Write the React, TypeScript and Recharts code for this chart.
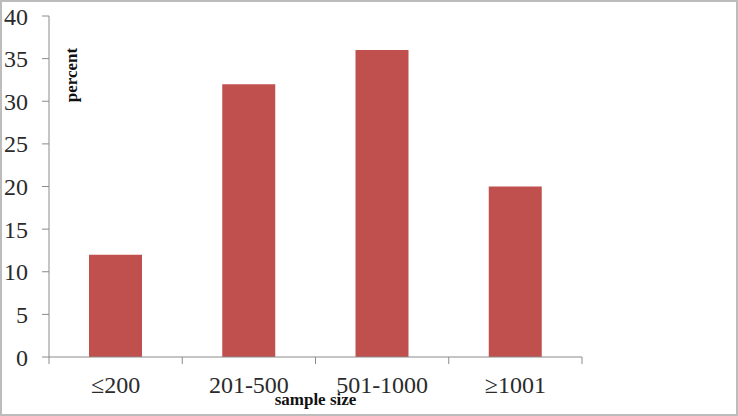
import { BarChart, Bar, XAxis, YAxis, Label } from 'recharts';

const categories = ['≤200', '201-500', '501-1000', '≥1001'];
const percentValues = [12, 32, 36, 20];
const yTicks = [0, 5, 10, 15, 20, 25, 30, 35, 40];

const data = categories.map((name, i) => ({ name, percent: percentValues[i] }));

const FONT = '"Liberation Serif", "Times New Roman", serif';
const AXIS_COLOR = '#8a8a8a';
const TEXT_COLOR = '#2b2b2b';

const CHART_W = 734;
const CHART_H = 412;
const MARGIN = { top: 14, right: 154, bottom: 17, left: 0 };
const Y_AXIS_W = 47;
const TICK_SIZE = 7;
const TICK_MARGIN = 12;
const BAND = (CHART_W - MARGIN.left - MARGIN.right - Y_AXIS_W) / categories.length;

// category label at band centre + tick marks at the band edges (Excel style)
function CategoryTick(props: any) {
  const { x, y, payload, index } = props;
  const axisY = y - TICK_SIZE - TICK_MARGIN;
  const left = x - BAND / 2;
  const right = x + BAND / 2;
  return (
    <g>
      <line x1={left} y1={axisY} x2={left} y2={axisY + TICK_SIZE} stroke={AXIS_COLOR} />
      {index === categories.length - 1 && (
        <line x1={right} y1={axisY} x2={right} y2={axisY + TICK_SIZE} stroke={AXIS_COLOR} />
      )}
      <text
        x={x}
        y={y}
        dy="0.71em"
        textAnchor="middle"
        fontFamily={FONT}
        fontSize={24}
        fill={TEXT_COLOR}
      >
        {payload.value}
      </text>
    </g>
  );
}

export default function App() {
  return (
    <div
      style={{
        position: 'absolute',
        left: 0,
        top: 0,
        width: 738,
        height: 416,
        boxSizing: 'border-box',
        border: '2px solid #bcbcbc',
        background: '#fff',
      }}
    >
      <BarChart width={CHART_W} height={CHART_H} data={data} margin={MARGIN}>
        <XAxis
          dataKey="name"
          height={40}
          axisLine={{ stroke: AXIS_COLOR }}
          tickLine={false}
          tickSize={TICK_SIZE}
          tickMargin={TICK_MARGIN}
          interval={0}
          tick={<CategoryTick />}
        >
          <Label
            content={({ viewBox }: any) => (
              <text
                x={viewBox.x + viewBox.width / 2}
                y={viewBox.y + 48}
                textAnchor="middle"
                fontFamily={FONT}
                fontWeight="bold"
                fontSize={17}
                fill="#111"
              >
                sample size
              </text>
            )}
          />
        </XAxis>
        <YAxis
          width={Y_AXIS_W}
          domain={[0, 40]}
          ticks={yTicks}
          interval={0}
          axisLine={{ stroke: AXIS_COLOR }}
          tickLine={{ stroke: AXIS_COLOR }}
          tickSize={TICK_SIZE}
          tickMargin={14}
          tick={{ fontFamily: FONT, fontSize: 24, fill: TEXT_COLOR }}
        >
          <Label
            content={({ viewBox }: any) => {
              const x = viewBox.x + viewBox.width + 28;
              const y = viewBox.y + 59;
              return (
                <text
                  x={x}
                  y={y}
                  transform={`rotate(-90, ${x}, ${y})`}
                  textAnchor="middle"
                  fontFamily={FONT}
                  fontWeight="bold"
                  fontSize={17}
                  fill="#111"
                >
                  percent
                </text>
              );
            }}
          />
        </YAxis>
        <Bar dataKey="percent" fill="#C0504D" barSize={53} isAnimationActive={false} />
      </BarChart>
    </div>
  );
}
